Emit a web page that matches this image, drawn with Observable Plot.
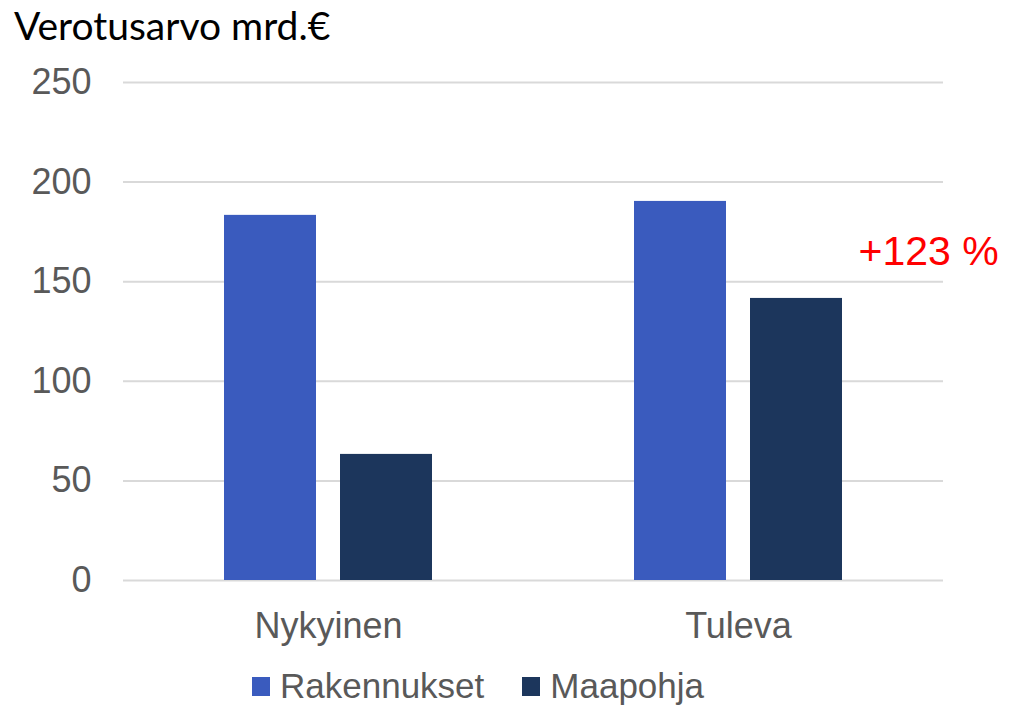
<!DOCTYPE html>
<html>
<head>
<meta charset="utf-8">
<script src="https://cdn.jsdelivr.net/npm/d3@7"></script>
<script src="https://cdn.jsdelivr.net/npm/@observablehq/plot@0.6"></script>
<style>
  html, body { margin: 0; padding: 0; background: #fff; width: 1024px; height: 707px; overflow: hidden; }
  #title { position: absolute; left: 14px; top: 0px; font-family: Lato, "Open Sans", sans-serif; font-size: 39px; line-height: 50px; color: #000; white-space: nowrap; }
  #chart { position: absolute; left: 0; top: 55px; }
  #legend { position: absolute; left: 252px; top: 666px; display: flex; align-items: center; font-family: "Liberation Sans", Arial, sans-serif; font-size: 35px; color: #595959; white-space: nowrap; }
  .item { display: flex; align-items: center; margin-right: 38px; }
  .sw { width: 18px; height: 19px; margin-right: 10px; }
</style>
</head>
<body>
<div id="title">Verotusarvo mrd.€</div>
<div id="chart"></div>
<div id="legend"></div>
<script>
const categories = ["Nykyinen", "Tuleva"];
const series = ["Rakennukset", "Maapohja"];
const rakennukset = [183.3, 190.3];
const maapohja = [63.3, 141.6];
const colors = ["#3A5BBE", "#1C365C"];
const yTicks = [0, 50, 100, 150, 200, 250];
const annotation = ["+123 %"];

const data = categories.flatMap((c, i) => [
  { category: c, series: series[0], value: rakennukset[i] },
  { category: c, series: series[1], value: maapohja[i] }
]);

const annData = annotation.map(t => ({
  text: t,
  category: categories[1],
  series: series[1],
  y: (rakennukset[1] + maapohja[1]) / 2
}));

const chart = Plot.plot({
  width: 1024,
  height: 600,
  marginTop: 27,
  marginBottom: 75,
  marginLeft: 123,
  marginRight: 81,
  style: { fontFamily: "'Liberation Sans', Arial, sans-serif", fontSize: "36px", color: "#595959", background: "white", overflow: "visible" },
  fx: { domain: categories, padding: 0, label: null, axis: "bottom", tickSize: 0, tickPadding: 32 },
  x: { domain: series, paddingInner: 0.2069, paddingOuter: 0.87, axis: null },
  y: { domain: [0, 250], ticks: yTicks, label: null, tickSize: 0, tickPadding: 32, axis: "left" },
  color: { domain: series, range: colors },
  marks: [
    Plot.gridY(yTicks, { stroke: "#d9d9d9", strokeOpacity: 1, strokeWidth: 2 }),
    Plot.barY(data, { fx: "category", x: "series", y: "value", fill: "series" }),
    Plot.text(annData, { fx: "category", x: "series", y: "y", text: "text", fill: "#ff0000", fontSize: 41, textAnchor: "start", dx: 62, dy: 2 })
  ]
});
document.getElementById("chart").appendChild(chart);

const legend = document.getElementById("legend");
series.forEach((s, i) => {
  const item = document.createElement("div");
  item.className = "item";
  const sw = document.createElement("div");
  sw.className = "sw";
  sw.style.background = colors[i];
  const lab = document.createElement("span");
  lab.textContent = s;
  item.appendChild(sw);
  item.appendChild(lab);
  legend.appendChild(item);
});
</script>
</body>
</html>
